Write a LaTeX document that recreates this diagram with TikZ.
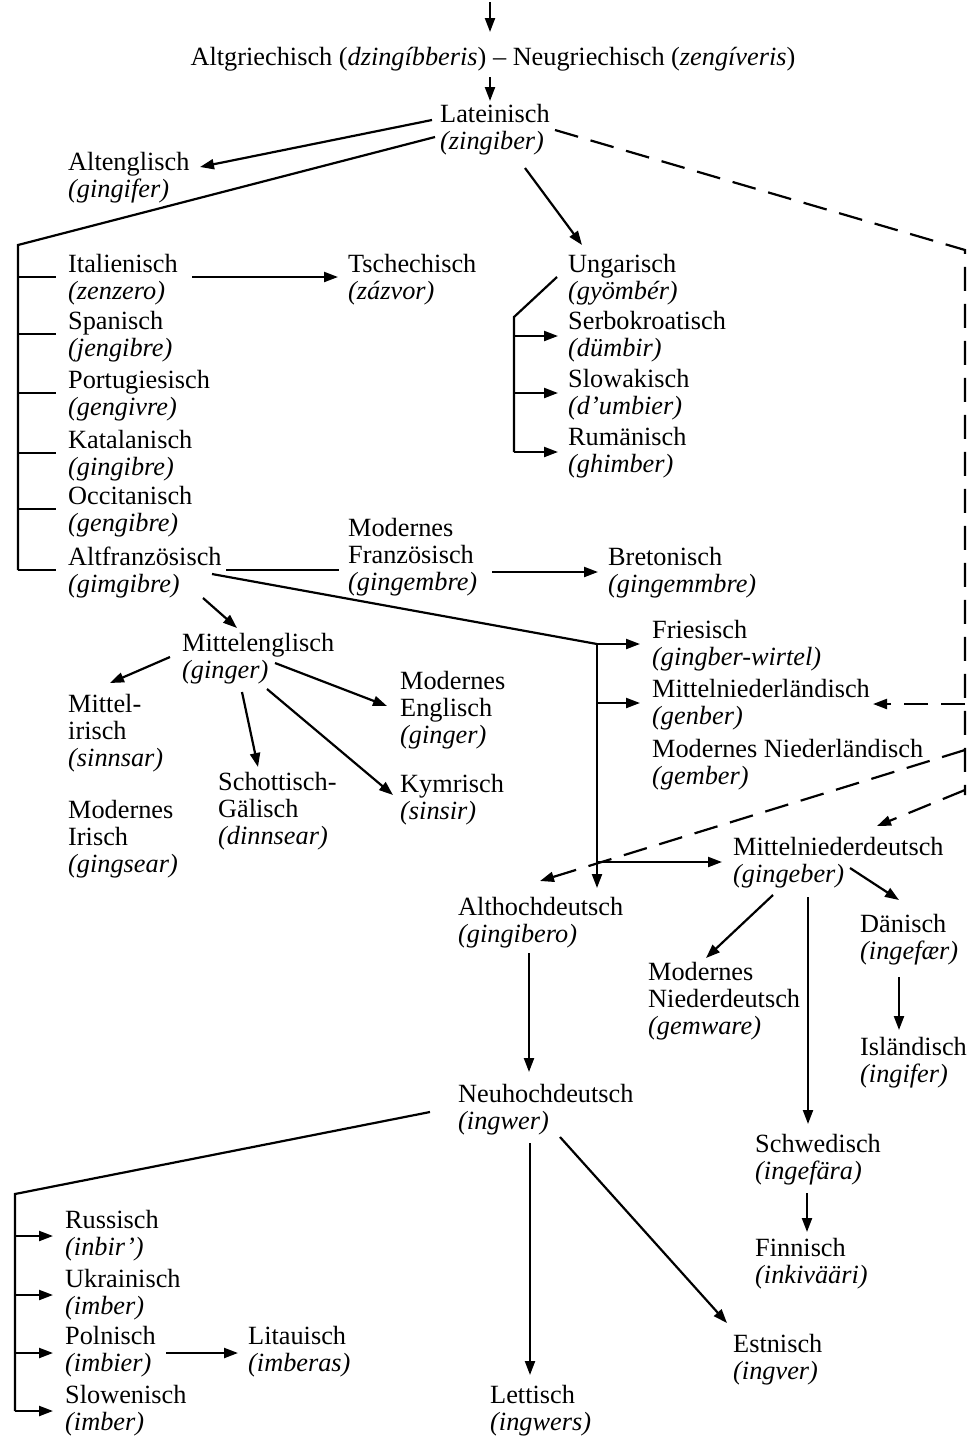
\documentclass[tikz,border=0pt]{standalone}
\usepackage{fontspec}
\setmainfont{Liberation Serif}
\usetikzlibrary{arrows.meta}
\newcommand{\lbfont}{\fontsize{26.3}{27}\selectfont}
\begin{document}
\begin{tikzpicture}[x=1pt,y=-1pt,
  lbl/.style={anchor=north west, inner sep=0pt, align=left, font=\lbfont},
  ln/.style={line width=2.2pt},
  arr/.style={ln, -{Triangle[length=14pt,width=10pt]}},
  dsh/.style={line width=2.2pt, dash pattern=on 24pt off 13pt},
  darr/.style={dsh, -{Triangle[length=14pt,width=10pt]}}]
\useasboundingbox (0,0) rectangle (970,1443);
\fill[white] (0,0) rectangle (970,1443);

% ---------- nodes ----------
\node[font=\lbfont, inner sep=0pt, anchor=north] (title) at (493,46)
  {\strut Altgriechisch (\textit{dzingíbberis}) – Neugriechisch (\textit{zengíveris})};
\node[lbl] (lat)  at (440,103)  {\strut Lateinisch\\\textit{(zingiber)}};
\node[lbl] (aen)  at (68,151)   {\strut Altenglisch\\\textit{(gingifer)}};
\node[lbl] (ita)  at (68,253)   {\strut Italienisch\\\textit{(zenzero)}};
\node[lbl] (spa)  at (68,310)   {\strut Spanisch\\\textit{(jengibre)}};
\node[lbl] (por)  at (68,369)   {\strut Portugiesisch\\\textit{(gengivre)}};
\node[lbl] (kat)  at (68,429)   {\strut Katalanisch\\\textit{(gingibre)}};
\node[lbl] (occ)  at (68,485)   {\strut Occitanisch\\\textit{(gengibre)}};
\node[lbl] (afr)  at (68,546)   {\strut Altfranzösisch\\\textit{(gimgibre)}};
\node[lbl] (tsc)  at (348,253)  {\strut Tschechisch\\\textit{(zázvor)}};
\node[lbl] (ung)  at (568,253)  {\strut Ungarisch\\\textit{(gyömbér)}};
\node[lbl] (srb)  at (568,310)  {\strut Serbokroatisch\\\textit{(dümbir)}};
\node[lbl] (slk)  at (568,368)  {\strut Slowakisch\\\textit{(d’umbier)}};
\node[lbl] (rum)  at (568,426)  {\strut Rumänisch\\\textit{(ghimber)}};
\node[lbl] (mfr)  at (348,517)  {\strut Modernes\\Französisch\\\textit{(gingembre)}};
\node[lbl] (bre)  at (608,546)  {\strut Bretonisch\\\textit{(gingemmbre)}};
\node[lbl] (men)  at (182,632)  {\strut Mittelenglisch\\\textit{(ginger)}};
\node[lbl] (mir)  at (68,693)   {\strut Mittel-\\irisch\\\textit{(sinnsar)}};
\node[lbl] (mdi)  at (68,799)   {\strut Modernes\\Irisch\\\textit{(gingsear)}};
\node[lbl] (sch)  at (218,771)  {\strut Schottisch-\\Gälisch\\\textit{(dinnsear)}};
\node[lbl] (meng) at (400,670)  {\strut Modernes\\Englisch\\\textit{(ginger)}};
\node[lbl] (kym)  at (400,773)  {\strut Kymrisch\\\textit{(sinsir)}};
\node[lbl] (fri)  at (652,619)  {\strut Friesisch\\\textit{(gingber-wirtel)}};
\node[lbl] (mnl)  at (652,678)  {\strut Mittelniederländisch\\\textit{(genber)}};
\node[lbl] (mdn)  at (652,738)  {\strut Modernes Niederländisch\\\textit{(gember)}};
\node[lbl] (mnd)  at (733,836)  {\strut Mittelniederdeutsch\\\textit{(gingeber)}};
\node[lbl] (ahd)  at (458,896)  {\strut Althochdeutsch\\\textit{(gingibero)}};
\node[lbl] (dan)  at (860,913)  {\strut Dänisch\\\textit{(ingefær)}};
\node[lbl] (mndd) at (648,961)  {\strut Modernes\\Niederdeutsch\\\textit{(gemware)}};
\node[lbl] (isl)  at (860,1036) {\strut Isländisch\\\textit{(ingifer)}};
\node[lbl] (nhd)  at (458,1083) {\strut Neuhochdeutsch\\\textit{(ingwer)}};
\node[lbl] (swe)  at (755,1133) {\strut Schwedisch\\\textit{(ingefära)}};
\node[lbl] (fin)  at (755,1237) {\strut Finnisch\\\textit{(inkivääri)}};
\node[lbl] (rus)  at (65,1209)  {\strut Russisch\\\textit{(inbir’)}};
\node[lbl] (ukr)  at (65,1268)  {\strut Ukrainisch\\\textit{(imber)}};
\node[lbl] (pol)  at (65,1325)  {\strut Polnisch\\\textit{(imbier)}};
\node[lbl] (lit)  at (248,1325) {\strut Litauisch\\\textit{(imberas)}};
\node[lbl] (slo)  at (65,1384)  {\strut Slowenisch\\\textit{(imber)}};
\node[lbl] (let)  at (490,1384) {\strut Lettisch\\\textit{(ingwers)}};
\node[lbl] (est)  at (733,1333) {\strut Estnisch\\\textit{(ingver)}};

% ---------- free-end / junction coordinates ----------
\coordinate (src) at (490,2);
\coordinate (rb)  at (18,245);
\coordinate (ub)  at (514,317);
\coordinate (gj)  at (597,644);
\coordinate (sb)  at (15,1194);
\coordinate (r1)  at (965,250);
\coordinate (r2)  at (965,704);
\coordinate (r3)  at (965,750);
\coordinate (r4)  at (965,790);
\coordinate (r5)  at (965,795);

% ---------- top ----------
\draw[arr] (src) -- ([shift={(-3,-14)}]title.north);
\draw[arr] ([shift={(-3,4)}]title.south) -- ([shift={(50,-2)}]lat.north west);
\draw[arr] ([shift={(-8,17)}]lat.north west) -- ([shift={(132,16)}]aen.north west);

% Romance bracket
\draw[ln] ([shift={(-5,34)}]lat.north west) -- (rb) -- ([shift={(-50,24)}]afr.north west);
\foreach \n in {ita,spa,por,kat,occ,afr}
  \draw[ln] ([shift={(-50,24)}]\n.north west) -- ([shift={(-12,24)}]\n.north west);
\draw[arr] ([shift={(124,24)}]ita.north west) -- ([shift={(-10,24)}]tsc.north west);

% Ungarisch group
\draw[arr] ([shift={(85,65)}]lat.north west) -- ([shift={(14,-8)}]ung.north west);
\draw[ln] ([shift={(-11,24)}]ung.north west) -- (ub) -- ([shift={(-54,26)}]rum.north west);
\draw[arr] ([shift={(-54,26)}]srb.north west) -- ([shift={(-10,26)}]srb.north west);
\draw[arr] ([shift={(-54,25)}]slk.north west) -- ([shift={(-10,25)}]slk.north west);
\draw[arr] ([shift={(-54,26)}]rum.north west) -- ([shift={(-10,26)}]rum.north west);

% Franzoesisch
\draw[ln] ([shift={(158,24)}]afr.north west) -- ([shift={(-9,53)}]mfr.north west);
\draw[arr] ([shift={(144,55)}]mfr.north west) -- ([shift={(-10,26)}]bre.north west);
\draw[arr] ([shift={(135,52)}]afr.north west) -- ([shift={(55,-4)}]men.north west);

% Germanic branch
\draw[ln] ([shift={(144,28)}]afr.north west) -- (gj);
\draw[arr] (gj) -- ([shift={(-12,25)}]fri.north west);
\draw[arr] (gj) -- ([shift={(139,-8)}]ahd.north west);
\draw[arr] ([shift={(-55,25)}]mnl.north west) -- ([shift={(-12,25)}]mnl.north west);
\draw[arr] ([shift={(-136,26)}]mnd.north west) -- ([shift={(-11,26)}]mnd.north west);

% Mittelenglisch
\draw[arr] ([shift={(-12,25)}]men.north west) -- ([shift={(42,-10)}]mir.north west);
\draw[arr] ([shift={(60,60)}]men.north west) -- ([shift={(40,-4)}]sch.north west);
\draw[arr] ([shift={(85,57)}]men.north west) -- ([shift={(-7,22)}]kym.north west);
\draw[arr] ([shift={(93,31)}]men.north west) -- ([shift={(-13,36)}]meng.north west);

% dashed lines
\draw[dsh] ([shift={(115,27)}]lat.north west) -- (r1) -- (r5);
\draw[darr] (r2) -- ([shift={(221,26)}]mnl.north west);
\draw[darr] (r3) -- ([shift={(82,-15)}]ahd.north west);
\draw[darr] (r4) -- ([shift={(144,-10)}]mnd.north west);

% Mittelniederdeutsch
\draw[arr] ([shift={(40,59)}]mnd.north west) -- ([shift={(58,-3)}]mndd.north west);
\draw[arr] ([shift={(117,32)}]mnd.north west) -- ([shift={(39,-13)}]dan.north west);
\draw[arr] ([shift={(75,61)}]mnd.north west) -- ([shift={(53,-9)}]swe.north west);
\draw[arr] ([shift={(39,64)}]dan.north west) -- ([shift={(39,-6)}]isl.north west);
\draw[arr] ([shift={(52,60)}]swe.north west) -- ([shift={(52,-5)}]fin.north west);

% Hochdeutsch
\draw[arr] ([shift={(71,57)}]ahd.north west) -- ([shift={(71,-11)}]nhd.north west);
\draw[ln] ([shift={(-28,29)}]nhd.north west) -- (sb) -- ([shift={(-50,27)}]slo.north west);
\draw[arr] ([shift={(-50,27)}]rus.north west) -- ([shift={(-12,27)}]rus.north west);
\draw[arr] ([shift={(-50,27)}]ukr.north west) -- ([shift={(-12,27)}]ukr.north west);
\draw[arr] ([shift={(-50,28)}]pol.north west) -- ([shift={(-12,28)}]pol.north west);
\draw[arr] ([shift={(-50,27)}]slo.north west) -- ([shift={(-12,27)}]slo.north west);
\draw[arr] ([shift={(101,28)}]pol.north west) -- ([shift={(-10,28)}]lit.north west);
\draw[arr] ([shift={(72,60)}]nhd.north west) -- ([shift={(40,-9)}]let.north west);
\draw[arr] ([shift={(102,54)}]nhd.north west) -- ([shift={(-6,-10)}]est.north west);
\end{tikzpicture}
\end{document}
